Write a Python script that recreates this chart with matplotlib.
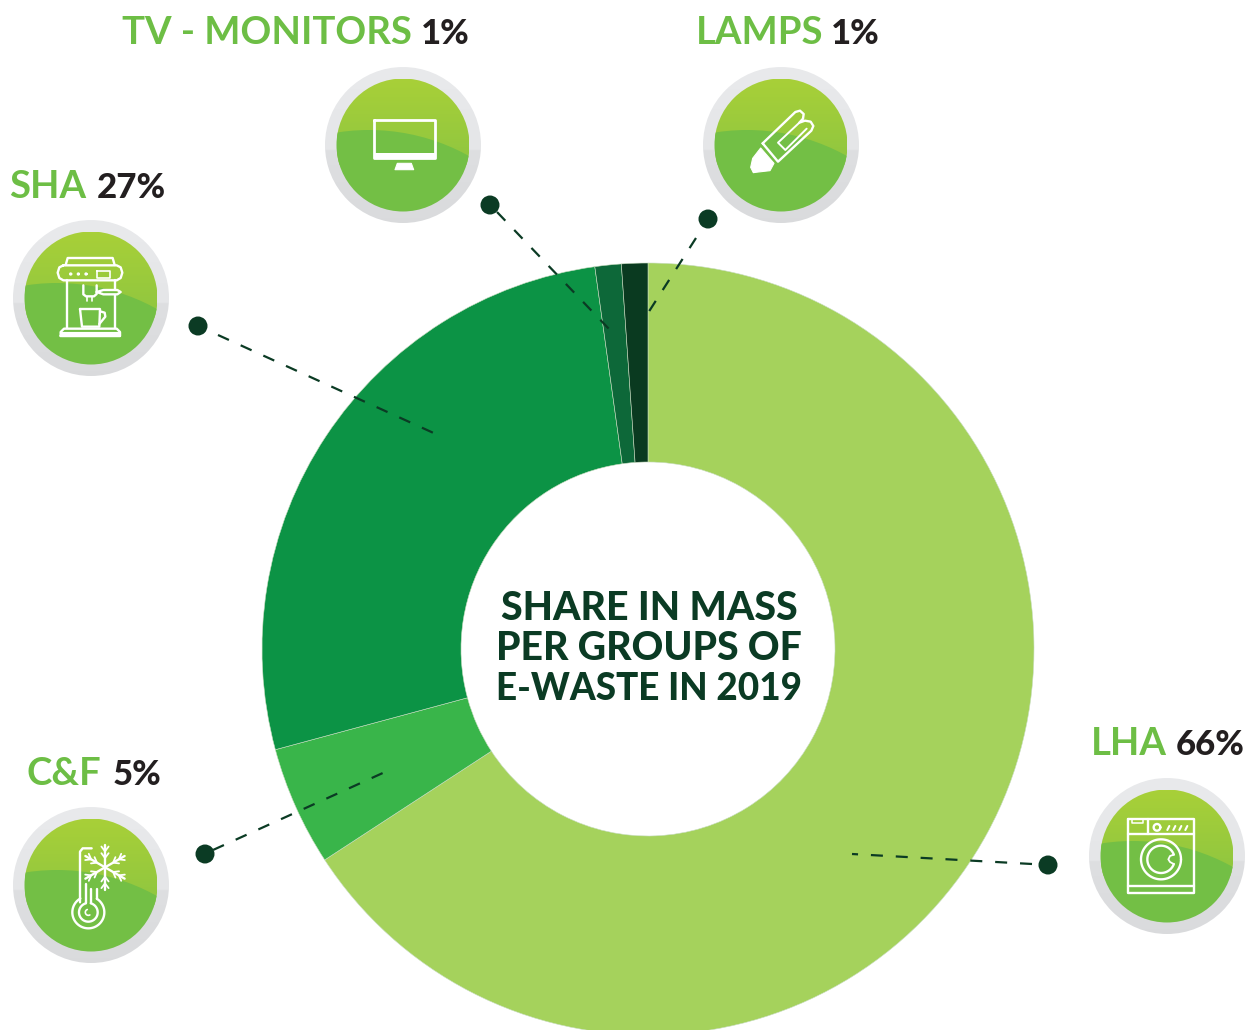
import numpy as np
import matplotlib
matplotlib.use("Agg")
import matplotlib.pyplot as plt
from matplotlib.patches import Circle, Polygon

categories = ["LHA", "C&F", "SHA", "TV - MONITORS", "LAMPS"]
shares = [65.8, 5.0, 27.0, 1.1, 1.1]
share_labels = ["66%", "5%", "27%", "1%", "1%"]
title_lines = ["SHARE IN MASS", "PER GROUPS OF", "E-WASTE IN 2019"]
wedge_colors = ["#A5D25C", "#39B54A", "#0C9345", "#0D6839", "#0A3A20"]

GREEN = "#6DBE45"
BLACK = "#231F20"
DARK = "#0B3B24"
W, H = 1258, 1030
FONT = "Lato"

fig = plt.figure(figsize=(W / 100, H / 100), dpi=100)
ax = fig.add_axes([0, 0, 1, 1])


def py(y):
    return H - y


ax.pie(shares, colors=wedge_colors, startangle=90, counterclock=False,
       center=(648, py(649)), radius=386, frame=True,
       wedgeprops=dict(width=199, edgecolor="#C8DDC0", linewidth=0.4))
ax.set_aspect("equal")
ax.axis("off")

for line, yb, fs in zip(title_lines, [620.5, 660.5, 700.5], [28.3, 28.2, 26.6]):
    ax.text(649, py(yb), line, family=FONT, weight="black", fontsize=fs,
            color=DARK, ha="center", va="baseline")

label_pos = {"LHA": (1091, 1176, 755), "C&F": (27, 113, 785), "SHA": (9, 97, 198),
             "TV - MONITORS": (122, 421, 44), "LAMPS": (696, 831, 44)}
for cat, pct in zip(categories, share_labels):
    x1, x2, yb = label_pos[cat]
    ax.text(x1, py(yb), cat, family=FONT, weight="bold", fontsize=27.5, color=GREEN, va="baseline")
    ax.text(x2, py(yb), pct, family=FONT, weight="black", fontsize=25, color=BLACK, va="baseline")

leaders = {"LHA": ((1048, 865), (1032, 864), (852, 854)),
           "C&F": ((205, 854), (213, 850), (385, 772)),
           "SHA": ((198, 326), (218, 335), (438, 435)),
           "TV - MONITORS": ((490, 205), (497, 212), (610, 330)),
           "LAMPS": ((708, 219), (696, 238), (648, 313))}
for dot, a, b in leaders.values():
    ax.plot([a[0], b[0]], [py(a[1]), py(b[1])], color=DARK, lw=1.6, zorder=5,
            linestyle=(0, (5.4, 5.8)), dash_capstyle="butt")
    ax.add_patch(Circle((dot[0], py(dot[1])), 9.5, fc=DARK, ec="none", zorder=6))

ring_cmap = matplotlib.colors.LinearSegmentedColormap.from_list("r", ["#D6D7D9", "#E9EAEC"])
top_cmap = matplotlib.colors.LinearSegmentedColormap.from_list("t", ["#8FC640", "#A8D038"])


def badge(cx, cy):
    c = (cx, py(cy))
    g = np.linspace(1, 0, 64).reshape(-1, 1)
    g = np.where(g > 0.47, 0.6 + 0.4 * g, 0.45 * g + 0.2)
    im = ax.imshow(g, cmap=ring_cmap, vmin=0, vmax=1, extent=(cx - 78, cx + 78, py(cy + 78), py(cy - 78)),
                   aspect="auto", zorder=7, origin="upper")
    im.set_clip_path(Circle(c, 78, transform=ax.transData))
    g2 = np.linspace(1, 0, 64).reshape(-1, 1)
    im2 = ax.imshow(g2, cmap=top_cmap, vmin=0, vmax=1, extent=(cx - 66, cx + 66, py(cy + 20), py(cy - 66)),
                    aspect="auto", zorder=8, origin="upper")
    im2.set_clip_path(Circle(c, 66.5, transform=ax.transData))
    low = Circle((cx - 34, py(cy) + 15 - 205), 205, fc="#73BF45", ec="none", zorder=9)
    ax.add_patch(low)
    low.set_clip_path(Circle(c, 66.5, transform=ax.transData))


for cx, cy in [(91, 298), (403, 145), (781, 145), (1167, 856), (91, 885)]:
    badge(cx, cy)

ax.set_xlim(0, W)
ax.set_ylim(0, H)
ax.set_aspect("equal")
ILW = 1.7


def mapper(x0, y0):
    return lambda pts: [(x0 + x / 3, py(y0 + y / 3)) for x, y in pts]


def stroke(m, pts, lw=ILW, closed=False):
    p = m(pts)
    if closed:
        p = p + [p[0]]
    xs, ys = zip(*p)
    ax.plot(xs, ys, color="white", lw=lw, zorder=10, solid_capstyle="round", solid_joinstyle="round")


def fill(m, pts):
    ax.add_patch(Polygon(m(pts), closed=True, fc="white", ec="white", lw=0.8, zorder=10, joinstyle="round"))


def ring(m, c, r, lw=ILW, a0=0, a1=360):
    t = np.radians(np.linspace(a0, a1, 80))
    stroke(m, list(zip(c[0] + r * np.cos(t), c[1] + r * np.sin(t))), lw)


# coffee machine
m = mapper(0, 150)
stroke(m, [(197, 345), (203, 324), (338, 324), (344, 345)])
stroke(m, [(190, 346), (350, 346), (362, 352), (367, 368), (362, 384), (350, 391), (190, 391),
           (178, 384), (173, 368), (178, 352)], closed=True)
for x in (212, 235, 258):
    ring(m, (x, 372), 2.5, lw=1.2)
stroke(m, [(291, 362), (330, 362), (330, 383), (291, 383)], closed=True, lw=1.2)
stroke(m, [(201, 391), (201, 535)])
stroke(m, [(345, 391), (345, 418)])
stroke(m, [(345, 434), (345, 535)])
stroke(m, [(182, 558), (182, 546), (192, 536), (350, 536), (360, 546), (360, 558)], closed=True)
fill(m, [(182, 546), (360, 546), (360, 558), (182, 558)])
stroke(m, [(250, 406), (250, 433), (258, 439), (282, 439), (290, 432), (290, 406)])
stroke(m, [(262, 440), (262, 452)], lw=1.2)
stroke(m, [(276, 440), (276, 452)], lw=1.2)
stroke(m, [(290, 426), (310, 420), (352, 420), (362, 426), (352, 433), (310, 433)], closed=True)
stroke(m, [(240, 477), (300, 477), (298, 530), (246, 530)], closed=True)
stroke(m, [(300, 484), (314, 488), (316, 500), (298, 522)])

# monitor
m = mapper(310, 0)
stroke(m, [(192, 360), (374, 360), (374, 475), (192, 475)], closed=True, lw=2.0)
ax.add_patch(Polygon(m([(192, 460), (374, 460), (374, 475), (192, 475)]), fc="white", ec="none", zorder=10))
fill(m, [(262, 490), (304, 490), (311, 509), (255, 509)])

# lamp
m = mapper(690, 50)
fill(m, [(212, 294), (252, 340), (240, 362), (205, 366), (190, 368), (182, 352), (188, 325)])
stroke(m, [(218, 280), (316, 186), (330, 182), (341, 192), (339, 206), (328, 218), (345, 212), (362, 215),
           (370, 228), (364, 242), (264, 335)], closed=True)
stroke(m, [(328, 218), (264, 278), (286, 300), (350, 236)], lw=1.4)

# washer
m = mapper(1075, 770)
stroke(m, [(158, 148), (357, 148), (357, 369), (158, 369)], closed=True)
stroke(m, [(158, 191), (357, 191)])
stroke(m, [(218, 148), (218, 191)])
stroke(m, [(170, 148), (170, 160), (205, 160), (205, 148)], lw=1.1)
ring(m, (246, 172), 10)
for x in (280, 298, 316, 334):
    stroke(m, [(x - 3, 180), (x + 3, 168)], lw=1.5)
ring(m, (258, 268), 60)
ring(m, (258, 268), 41, a0=20, a1=340)
stroke(m, [(296, 254), (285, 258), (280, 268), (285, 276), (296, 282)], lw=1.3)
stroke(m, [(158, 347), (357, 347)])

# thermometer
m = mapper(0, 795)
stroke(m, [(240, 322), (240, 170), (248, 160), (275, 160)])
ring(m, (265, 352), 48, a0=-58, a1=240)
stroke(m, [(290, 312), (290, 282)])
stroke(m, [(257, 266), (257, 324)])
stroke(m, [(273, 282), (273, 324)])
ring(m, (265, 352), 28, a0=-75, a1=255)
ring(m, (265, 352), 9, lw=1.2, a0=60, a1=250)
c = np.array([315.0, 217.0])
for a in range(0, 360, 60):
    d = np.array([np.sin(np.radians(a)), -np.cos(np.radians(a))])
    n = np.array([-d[1], d[0]])
    stroke(m, [tuple(c), tuple(c + 68 * d)])
    for dist, sz in [(28, 18), (48, 18)]:
        b = c + dist * d
        stroke(m, [tuple(b + sz * (0.8 * d + 0.6 * n)), tuple(b), tuple(b + sz * (0.8 * d - 0.6 * n))], lw=1.3)

fig.savefig("out.png", dpi=100)
